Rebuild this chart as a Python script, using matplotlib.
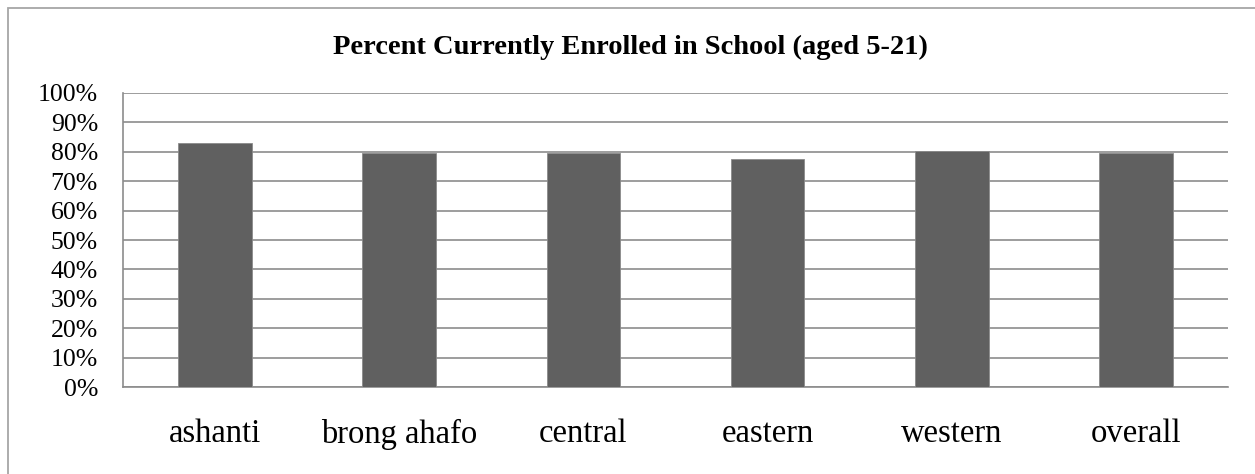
import matplotlib
matplotlib.use("agg")
import matplotlib.pyplot as plt
from matplotlib.patches import Rectangle
from matplotlib.ticker import PercentFormatter

### data
regions = ["ashanti", "brong ahafo", "central", "eastern", "western", "overall"]
enrolled = [0.831, 0.795, 0.795, 0.776, 0.803, 0.796]
yticks = [i / 10 for i in range(11)]

plt.rcParams["font.family"] = ["Liberation Serif", "DejaVu Serif"]

fig = plt.figure(figsize=(12.55, 4.74), dpi=100)
ax = fig.add_axes([0.098, 0.1835, 0.8805, 0.6203])

# outer chart frame (right/bottom edges fall outside the picture)
fig.patches.append(Rectangle((8 / 1255, -0.05), 1.2, 1 - 8 / 474 + 0.05,
                             transform=fig.transFigure, fill=False,
                             edgecolor="#a6a6a6", linewidth=1.3))

x = range(len(regions))
ax.bar(x, enrolled, width=0.4, color="#606060", edgecolor="#8a8a8a",
       linewidth=0.6, zorder=3)

ax.set_xlim(-0.5, len(regions) - 0.5)
ax.set_ylim(0, 1)
ax.set_yticks(yticks)
ax.yaxis.set_major_formatter(PercentFormatter(1.0, decimals=0))
ax.set_xticks(list(x))
ax.set_xticklabels(regions)

ax.grid(axis="y", color="#8c8c8c", linewidth=1.2, zorder=0)
for s in ["top", "right"]:
    ax.spines[s].set_visible(False)
for s in ["left", "bottom"]:
    ax.spines[s].set_color("#8c8c8c")
    ax.spines[s].set_linewidth(1.2)

ax.tick_params(axis="y", length=0, pad=18, labelsize=18.5)
ax.tick_params(axis="x", length=0, pad=23, labelsize=23.5)

fig.text(0.502, 1 - 54 / 474, "Percent Currently Enrolled in School (aged 5-21)",
         ha="center", va="baseline", fontsize=20.5, fontweight="bold")

fig.savefig("out.png", dpi=100)
